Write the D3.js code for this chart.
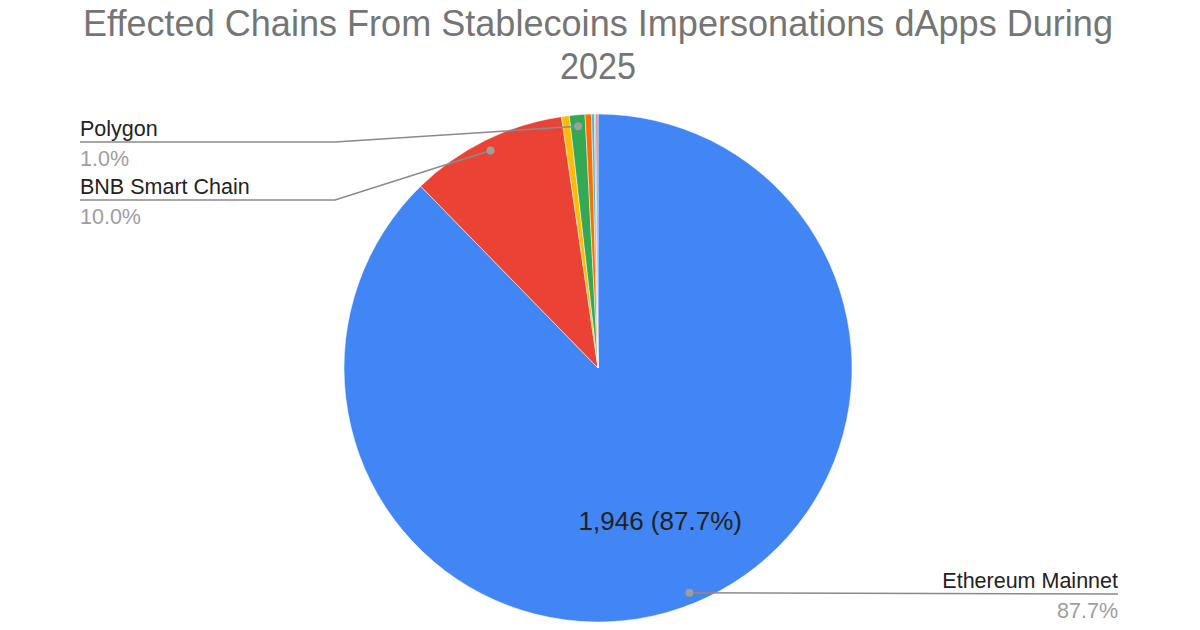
<!DOCTYPE html>
<html>
<head>
<meta charset="utf-8">
<script src="https://cdn.jsdelivr.net/npm/d3@7"></script>
<style>
  html, body { margin: 0; padding: 0; background: #fff; }
  svg { display: block; font-family: "Liberation Sans", Arial, sans-serif; }
</style>
</head>
<body>
<div id="chart"></div>
<script>
// Chain names and counts (data order, clockwise from top)
const chains = ["Ethereum Mainnet", "BNB Smart Chain", "Arbitrum", "Polygon", "Base", "Optimism", "Avalanche", "Linea"];
const counts = [1946, 222, 11, 22, 9, 4, 2, 3];
const colors = ["#4285f4", "#ea4335", "#fbbc04", "#34a853", "#ff6d01", "#46bdc6", "#7baaf7", "#f07b72"];
// Which slices get an outside label
const labelled = ["Polygon", "BNB Smart Chain", "Ethereum Mainnet"];

const width = 1200, height = 630;
const cx = 598, cy = 368, R = 254;

const svg = d3.select("#chart").append("svg")
  .attr("width", width)
  .attr("height", height);

// Title
const titleLines = ["Effected Chains From Stablecoins Impersonations dApps During", "2025"];
svg.append("text")
  .attr("x", cx).attr("y", 36)
  .attr("text-anchor", "middle")
  .attr("font-size", 37)
  .attr("fill", "#757575")
  .attr("textLength", 1030)
  .attr("lengthAdjust", "spacingAndGlyphs")
  .text(titleLines[0]);
svg.append("text")
  .attr("x", cx).attr("y", 79)
  .attr("text-anchor", "middle")
  .attr("font-size", 37)
  .attr("fill", "#757575")
  .attr("textLength", 76)
  .attr("lengthAdjust", "spacingAndGlyphs")
  .text(titleLines[1]);

const data = chains.map((c, i) => ({ name: c, value: counts[i], color: colors[i] }));
const total = d3.sum(counts);
const fmtPct = d => (d.value / total * 100).toFixed(1) + "%";

const pie = d3.pie().value(d => d.value).sort(null);
const arcs = pie(data);
const arc = d3.arc().innerRadius(0).outerRadius(R);

const g = svg.append("g").attr("transform", `translate(${cx},${cy})`);

g.selectAll("path.slice")
  .data(arcs)
  .enter()
  .append("path")
  .attr("class", "slice")
  .attr("d", arc)
  .attr("fill", d => d.data.color)
  .attr("stroke", "#fff")
  .attr("stroke-width", 0.5);

// Inside label on the big slice
const inner = d3.arc().innerRadius(R * 0.65).outerRadius(R * 0.65);
const big = arcs[0];
const [ix, iy] = inner.centroid(big);
g.append("text")
  .attr("x", ix).attr("y", iy + 9)
  .attr("text-anchor", "middle")
  .attr("font-size", 26)
  .attr("fill", "#222")
  .text(`${d3.format(",")(big.value)} (${fmtPct(big.data)})`);

// Outside labels with leader lines
const dotArc = d3.arc().innerRadius(R * 0.955).outerRadius(R * 0.955);
const labelSpec = {
  "Polygon": { x: 80, lineY: 142, side: "left", elbow: 335 },
  "BNB Smart Chain": { x: 80, lineY: 200, side: "left", elbow: 335 },
  "Ethereum Mainnet": { x: 1118, lineY: 594, side: "right", elbow: null }
};

arcs.filter(a => labelled.includes(a.data.name)).forEach(a => {
  const s = labelSpec[a.data.name];
  const [dx, dy] = dotArc.centroid(a);
  const px = cx + dx, py = cy + dy;
  let pts;
  if (s.side === "left") {
    pts = [[s.x, s.lineY], [s.elbow, s.lineY], [px, py]];
  } else {
    pts = [[px, py], [s.x, s.lineY]];
  }
  svg.append("path")
    .attr("d", d3.line()(pts))
    .attr("fill", "none")
    .attr("stroke", "#8a8a8a")
    .attr("stroke-width", 1.5);
  svg.append("circle")
    .attr("cx", px).attr("cy", py).attr("r", 4)
    .attr("fill", "#9e9e9e");

  const anchor = s.side === "left" ? "start" : "end";
  svg.append("text")
    .attr("x", s.x).attr("y", s.lineY - 6)
    .attr("text-anchor", anchor)
    .attr("font-size", 21.5)
    .attr("fill", "#222")
    .text(a.data.name);
  svg.append("text")
    .attr("x", s.x).attr("y", s.lineY + 24)
    .attr("text-anchor", anchor)
    .attr("font-size", 21.5)
    .attr("fill", "#9e9e9e")
    .text(fmtPct(a.data));
});
</script>
</body>
</html>
